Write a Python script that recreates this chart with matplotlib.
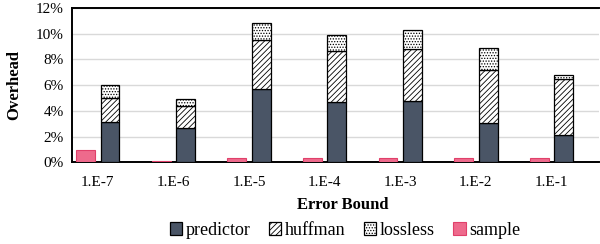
import numpy as np
import matplotlib
matplotlib.use("Agg")
import matplotlib.pyplot as plt
from matplotlib.ticker import FuncFormatter

plt.rcParams["font.family"] = ["Liberation Serif", "DejaVu Serif"]
plt.rcParams["hatch.linewidth"] = 0.6

# =========================================================
# DATA (percent overhead)
# =========================================================
bounds = ["1.E-7", "1.E-6", "1.E-5", "1.E-4", "1.E-3", "1.E-2", "1.E-1"]
predictor = [3.12, 2.70, 5.67, 4.69, 4.77, 3.07, 2.13]
huffman = [1.88, 1.64, 3.88, 3.95, 4.06, 4.09, 4.32]
lossless = [0.98, 0.58, 1.25, 1.26, 1.43, 1.74, 0.32]
sample = [0.96, 0.10, 0.31, 0.30, 0.30, 0.30, 0.35]

# =========================================================
# PLOT
# =========================================================
fig = plt.figure(figsize=(6.0, 2.44), dpi=100)
ax = fig.add_axes([0.12, 0.335, 0.878, 0.632])

x = np.arange(len(bounds))
w = 0.25
off = 0.162

ax.bar(x - off, sample, w, color="#EE6A8C", edgecolor="#E0406A", linewidth=0.8,
       label="sample", zorder=3)
ax.bar(x + off, predictor, w, color="#4A5566", edgecolor="black", linewidth=0.9,
       label="predictor", zorder=3)
ax.bar(x + off, huffman, w, bottom=predictor, color="white", edgecolor="black",
       hatch="//////", linewidth=0.9, label="huffman", zorder=3)
bot2 = np.array(predictor) + np.array(huffman)
ax.bar(x + off, lossless, w, bottom=bot2, color="white", edgecolor="black",
       hatch="......", linewidth=0.9, label="lossless", zorder=3)

ax.set_xlim(-0.34, 6.625)
ax.set_ylim(0, 12)
ax.set_yticks(np.arange(0, 13, 2))
ax.yaxis.set_major_formatter(FuncFormatter(lambda v, p: f"{v:.0f}%"))
ax.set_xticks(x)
ax.set_xticklabels(bounds)
ax.tick_params(axis="both", length=0, labelsize=11)
ax.tick_params(axis="x", pad=10)
ax.tick_params(axis="y", pad=6)
ax.grid(axis="y", color="#D9D9D9", linewidth=1.0, zorder=0)

for side in ["left", "bottom", "top"]:
    ax.spines[side].set_linewidth(1.4)
    ax.spines[side].set_color("black")
ax.spines["right"].set_visible(False)

fig.text(0.023, 0.65, "Overhead", rotation=90, ha="center", va="center",
         fontsize=12, fontweight="bold")
fig.text(0.572, 0.16, "Error Bound", ha="center", va="center",
         fontsize=12, fontweight="bold")

h, l = ax.get_legend_handles_labels()
order = [1, 2, 3, 0]
fig.legend([h[i] for i in order], [l[i] for i in order], loc="center",
           bbox_to_anchor=(0.575, 0.055), ncol=4, frameon=False, fontsize=13,
           handlelength=0.7, handleheight=0.7, handletextpad=0.2,
           columnspacing=1.0, borderpad=0)

fig.savefig("out.png", dpi=100)
